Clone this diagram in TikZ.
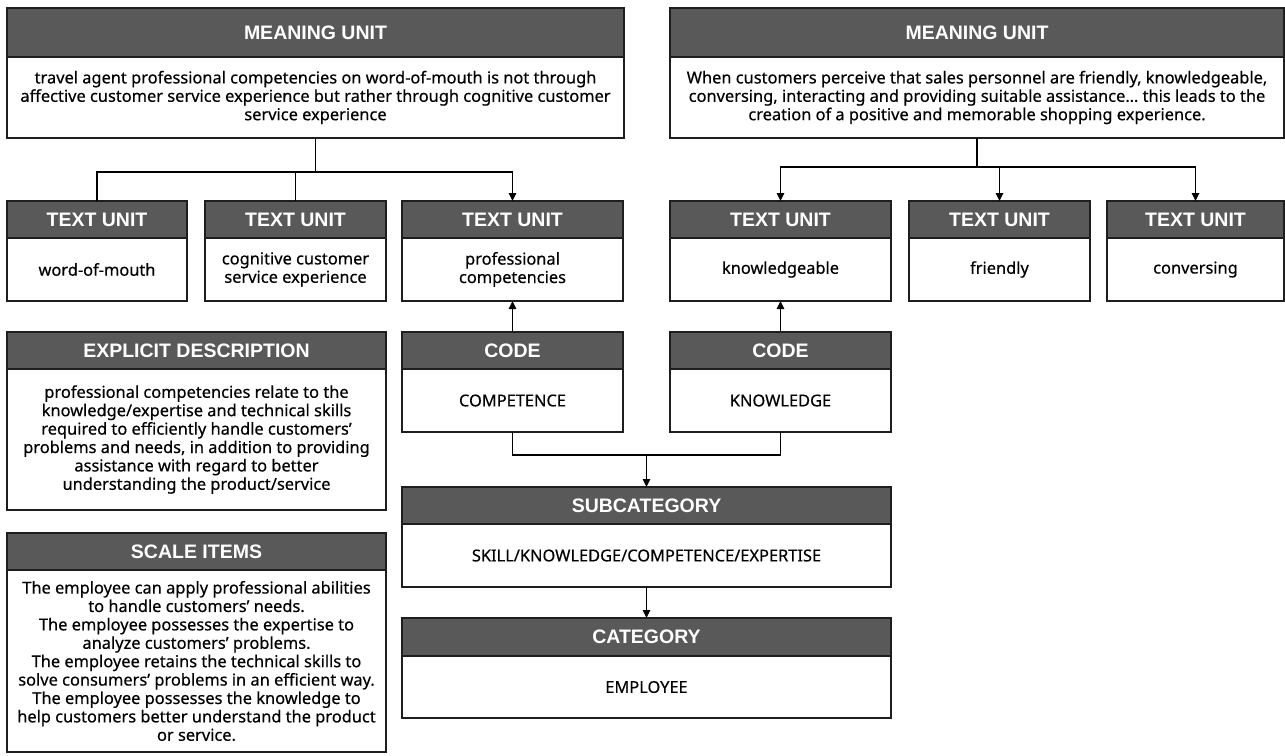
\documentclass[tikz,border=0pt]{standalone}
\usepackage{fontspec}
\setmainfont{Noto Sans}
\newfontfamily\hdrfont{Liberation Sans}
\newfontfamily\bdyfont{Noto Sans}[FakeBold=0.4]
\usetikzlibrary{arrows.meta}
\definecolor{hdrgray}{HTML}{595959}
\definecolor{edgecol}{HTML}{1E1E1E}
\tikzset{
  hdr/.style={draw=edgecol, line width=1.6pt, fill=hdrgray, text=white,
    font=\hdrfont\bfseries\fontsize{19.5}{22}\selectfont, inner sep=0pt, outer sep=0pt, anchor=north west},
  bdy/.style={draw=edgecol, line width=1.6pt, fill=white, text=black,
    font=\bdyfont\fontsize{16.4}{18.4}\selectfont, align=center, inner sep=0pt, outer sep=0pt, anchor=north west},
  conn/.style={draw=black, line width=1.6pt},
  arr/.style={-{Triangle[length=8pt,width=7.5pt]}}
}
% name, x1, y1, x2, ymid, y2, title, body
\newcommand\unitbox[8]{%
  \node[hdr, minimum width={(#4-#2)*1pt}, minimum height={(#5-#3)*1pt}] (#1h) at (#2,#3) {#7};
  \node[bdy, minimum width={(#4-#2)*1pt}, minimum height={(#6-#5)*1pt}] (#1) at (#2,#5) {#8};
}
\begin{document}
\begin{tikzpicture}[x=1pt,y=-1pt]
\useasboundingbox (0,0) rectangle (1285,755);

% meaning units
\unitbox{mua}{7}{8}{624}{57}{138}{MEANING UNIT}{travel agent professional competencies on word-of-mouth is not through\\affective customer service experience but rather through cognitive customer\\service experience}
\unitbox{mub}{670}{8}{1284}{57}{138}{MEANING UNIT}{When customers perceive that sales personnel are friendly, knowledgeable,\\conversing, interacting and providing suitable assistance… this leads to the\\creation of a positive and memorable shopping experience.}

% text units
\unitbox{tua}{7}{201}{187}{238}{301}{TEXT UNIT}{word-of-mouth}
\unitbox{tub}{205}{201}{386}{238}{301}{TEXT UNIT}{cognitive customer\\service experience}
\unitbox{tuc}{402}{201}{623}{238}{301}{TEXT UNIT}{professional\\competencies}
\unitbox{tud}{670}{201}{891}{238}{301}{TEXT UNIT}{knowledgeable}
\unitbox{tue}{909}{201}{1090}{238}{301}{TEXT UNIT}{friendly}
\unitbox{tuf}{1107}{201}{1284}{238}{301}{TEXT UNIT}{conversing}

% codes
\unitbox{coa}{402}{332}{623}{369}{432}{CODE}{COMPETENCE}
\unitbox{cob}{670}{332}{891}{369}{432}{CODE}{KNOWLEDGE}

% subcategory / category
\unitbox{sub}{402}{487}{891}{524}{587}{SUBCATEGORY}{SKILL/KNOWLEDGE/COMPETENCE/EXPERTISE}
\unitbox{cat}{402}{618}{891}{656}{718}{CATEGORY}{EMPLOYEE}

% explicit description / scale items
\unitbox{exd}{7}{332}{386}{369}{510}{EXPLICIT DESCRIPTION}{professional competencies relate to the\\knowledge/expertise and technical skills\\required to efficiently handle customers’\\problems and needs, in addition to providing\\assistance with regard to better\\understanding the product/service}
\unitbox{sci}{7}{533}{386}{570}{752}{SCALE ITEMS}{The employee can apply professional abilities\\to handle customers’ needs.\\The employee possesses the expertise to\\analyze customers’ problems.\\The employee retains the technical skills to\\solve consumers’ problems in an efficient way.\\The employee possesses the knowledge to\\help customers better understand the product\\or service.}

% connectors
\coordinate (jl) at (315.5,172);
\coordinate (jr) at (977,167);
\coordinate (jb) at (646.5,455);

\draw[conn] (mua.south) -- (jl);
\draw[conn,arr] (tuah.north) |- (jl) -| (tuch.north);
\draw[conn] (tubh.north) -- (tubh.north |- jl);

\draw[conn] (mub.south) -- (jr);
\draw[conn,arr] (jr) -| (tudh.north);
\draw[conn,arr] (jr) -| (tufh.north);
\draw[conn,arr] (tueh.north |- jr) -- (tueh.north);

\draw[conn,arr] (coah.north) -- (tuc.south);
\draw[conn,arr] (cobh.north) -- (tud.south);

\draw[conn] (coa.south) |- (jb) -| (cob.south);
\draw[conn,arr] (jb) -- (subh.north);
\draw[conn,arr] (sub.south) -- (cath.north);
\end{tikzpicture}
\end{document}
